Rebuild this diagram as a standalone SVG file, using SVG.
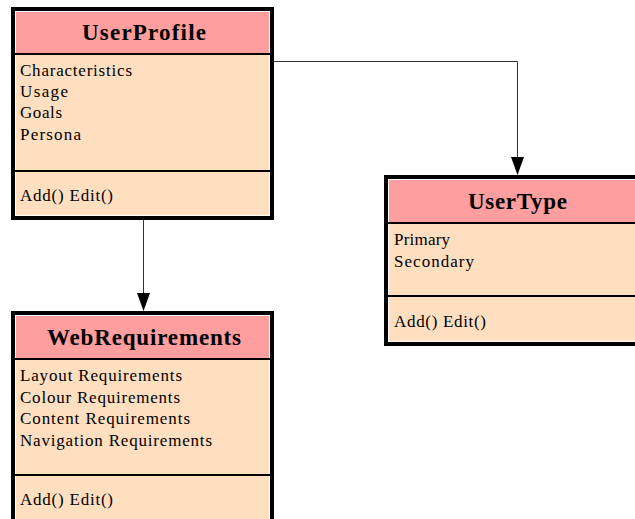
<svg xmlns="http://www.w3.org/2000/svg" width="635" height="519" viewBox="0 0 635 519">
  <style>
    .frame { fill: #000000; }
    .gap { fill: #ffffff; }
    .head { fill: #ff9e9e; }
    .body { fill: #ffdfbf; }
    .sep { fill: #000000; }
    .title { font-family: "Liberation Serif", "Times New Roman", serif; font-size: 23px; font-weight: bold; fill: #000; }
    .item { font-family: "Liberation Serif", "Times New Roman", serif; font-size: 17px; fill: #000; }
    .edge { fill: none; stroke: #333; stroke-width: 1; }
    .tip { fill: #000; }
  </style>
  <rect width="635" height="519" fill="#ffffff"/>

  <!-- connectors -->
  <g id="connectors">
    <path class="edge" d="M143.5,220 V294"/>
    <polygon class="tip" points="137,293 150,293 143.5,311"/>
    <path class="edge" d="M274,61.5 H517.5 V158"/>
    <polygon class="tip" points="511,157 524,157 517.5,175"/>
  </g>

  <!-- UserProfile -->
  <g id="UserProfile">
    <rect class="frame" x="11" y="7" width="263" height="213"/>
    <rect class="gap" x="15" y="11" width="255" height="205"/>
    <rect class="head" x="16" y="12" width="253" height="41"/>
    <rect class="sep" x="15" y="53" width="255" height="2"/>
    <rect class="body" x="16" y="55" width="253" height="115"/>
    <rect class="sep" x="15" y="170" width="255" height="2"/>
    <rect class="body" x="16" y="172" width="253" height="43"/>
    <text class="title" x="82" y="40" textLength="124" lengthAdjust="spacing">UserProfile</text>
    <text class="item" x="20" y="76" textLength="112" lengthAdjust="spacing">Characteristics</text>
    <text class="item" x="20" y="97" textLength="48" lengthAdjust="spacing">Usage</text>
    <text class="item" x="20" y="118" textLength="42" lengthAdjust="spacing">Goals</text>
    <text class="item" x="20" y="140" textLength="61" lengthAdjust="spacing">Persona</text>
    <text class="item" x="20" y="201" textLength="93" lengthAdjust="spacing">Add() Edit()</text>
  </g>

  <!-- UserType -->
  <g id="UserType">
    <rect class="frame" x="384" y="175" width="268" height="171"/>
    <rect class="gap" x="388" y="179" width="260" height="163"/>
    <rect class="head" x="389" y="180" width="258" height="42"/>
    <rect class="sep" x="388" y="222" width="260" height="2"/>
    <rect class="body" x="389" y="224" width="258" height="71"/>
    <rect class="sep" x="388" y="295" width="260" height="2"/>
    <rect class="body" x="389" y="297" width="258" height="44"/>
    <text class="title" x="468" y="209" textLength="99" lengthAdjust="spacing">UserType</text>
    <text class="item" x="394" y="245" textLength="56" lengthAdjust="spacing">Primary</text>
    <text class="item" x="394" y="267" textLength="80" lengthAdjust="spacing">Secondary</text>
    <text class="item" x="394" y="327" textLength="92" lengthAdjust="spacing">Add() Edit()</text>
  </g>

  <!-- WebRequirements -->
  <g id="WebRequirements">
    <rect class="frame" x="11" y="311" width="263" height="230"/>
    <rect class="gap" x="15" y="315" width="255" height="230"/>
    <rect class="head" x="16" y="316" width="253" height="42"/>
    <rect class="sep" x="15" y="358" width="255" height="2"/>
    <rect class="body" x="16" y="360" width="253" height="114"/>
    <rect class="sep" x="15" y="474" width="255" height="2"/>
    <rect class="body" x="16" y="476" width="253" height="60"/>
    <text class="title" x="47" y="345" textLength="194" lengthAdjust="spacing">WebRequirements</text>
    <text class="item" x="20" y="381" textLength="162" lengthAdjust="spacing">Layout Requirements</text>
    <text class="item" x="20" y="403" textLength="160" lengthAdjust="spacing">Colour Requirements</text>
    <text class="item" x="20" y="424" textLength="170" lengthAdjust="spacing">Content Requirements</text>
    <text class="item" x="20" y="446" textLength="192" lengthAdjust="spacing">Navigation Requirements</text>
    <text class="item" x="20" y="505" textLength="93" lengthAdjust="spacing">Add() Edit()</text>
  </g>
</svg>
